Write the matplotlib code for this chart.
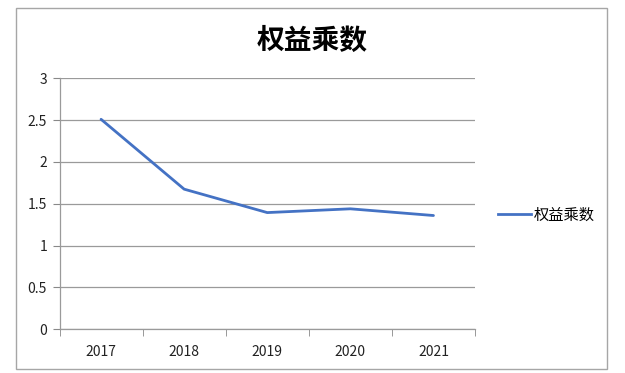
import matplotlib.pyplot as plt
from matplotlib.patches import Rectangle
from matplotlib.lines import Line2D

plt.rcParams['font.family'] = ['Noto Sans CJK SC', 'DejaVu Sans']

# Data
years = ['2017', '2018', '2019', '2020', '2021']
equity_multiplier = [2.51, 1.675, 1.395, 1.44, 1.36]
series_name = '权益乘数'
title = '权益乘数'

fig = plt.figure(figsize=(6.25, 3.73), dpi=100)
W, H = 625, 373

# outer chart frame like Excel
fig.patches.append(Rectangle((16 / W, 1 - 369 / H), (607 - 16) / W, (369 - 8) / H,
                             transform=fig.transFigure, fill=False,
                             edgecolor='#a6a6a6', linewidth=1.0))

ax = fig.add_axes([59.5 / W, 1 - 329.3 / H, (475 - 59.5) / W, (329.3 - 78.3) / H])

x = list(range(len(years)))
ax.plot(x, equity_multiplier, color='#4472c4', linewidth=2.0, solid_capstyle='round')

ax.set_xlim(-0.5, len(years) - 0.5)
ax.set_ylim(0, 3)
ax.set_yticks([0, 0.5, 1, 1.5, 2, 2.5, 3])
ax.set_yticklabels(['0', '0.5', '1', '1.5', '2', '2.5', '3'])
ax.set_xticks(x)
ax.set_xticklabels(years)
ax.set_xticks([i - 0.5 for i in range(len(years) + 1)], minor=True)
ax.tick_params(axis='x', which='major', length=0, pad=11, labelsize=10, colors='#222222')
ax.tick_params(axis='x', which='minor', length=5, color='#888888', direction='out')
ax.tick_params(axis='y', length=5, color='#888888', labelsize=10, colors='#222222', pad=4)
ax.tick_params(axis='y', color='#888888')

ax.grid(axis='y', color='#9a9a9a', linewidth=0.9)
ax.set_axisbelow(True)
for side in ['top', 'right']:
    ax.spines[side].set_visible(False)
for side in ['left', 'bottom']:
    ax.spines[side].set_color('#9a9a9a')
    ax.spines[side].set_linewidth(0.9)

fig.text(0.5, 1 - 41 / H, title, ha='center', va='center', fontsize=20, fontweight='bold')

handle = Line2D([], [], color='#4472c4', linewidth=2.0)
fig.legend([handle], [series_name], loc='center left',
           bbox_to_anchor=(484 / W, 1 - 215 / H), frameon=False,
           fontsize=11, handlelength=2.2, handletextpad=0.15)

fig.savefig('out.png', dpi=100)
